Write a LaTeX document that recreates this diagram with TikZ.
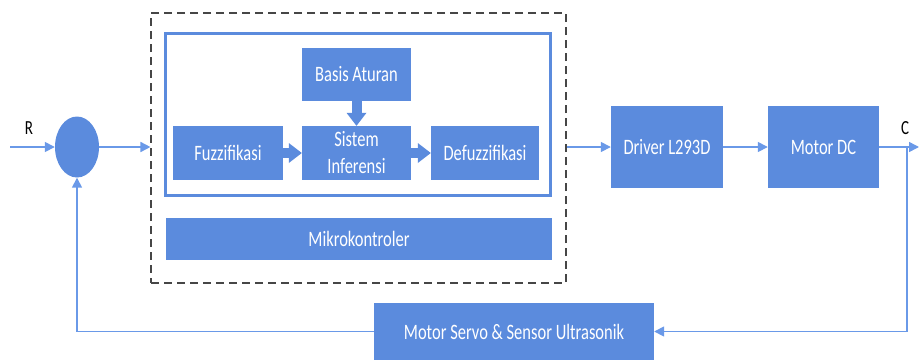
\documentclass[tikz,border=0pt]{standalone}
\usepackage{fontspec}
\setmainfont{Carlito}[FakeStretch=0.75]
\usetikzlibrary{arrows.meta,shapes.geometric}
\definecolor{blockblue}{RGB}{91,139,221}
\definecolor{wireblue}{RGB}{106,153,232}
\definecolor{dashgray}{RGB}{70,70,70}

\begin{document}
\begin{tikzpicture}[x=1pt,y=-1pt,
  block/.style={fill=blockblue, text=white, font=\fontsize{22}{27}\selectfont,
    align=center, inner sep=0pt},
  wire/.style={draw=wireblue, line width=1.6pt, -{Triangle[length=10pt,width=10pt]}},
  fat/.style={draw=blockblue, line width=10pt,
    -{Triangle[length=13pt,width=20pt,line width=0pt]}},
  lbl/.style={text=black, font=\fontsize{20}{22}\selectfont, inner sep=0pt}
]
\useasboundingbox (0,0) rectangle (919,360);

% controller boundary and fuzzy logic frame
\node[draw=dashgray, dash pattern=on 8pt off 5pt, line width=1.1pt,
  minimum width=415pt, minimum height=270pt] (ctrl) at (358.5,148) {};
\node[draw=blockblue, line width=3pt,
  minimum width=385pt, minimum height=162pt] (fuzzy) at (358,114.5) {};

% fuzzy blocks
\node[block, minimum width=109pt, minimum height=53pt] (basis) at (356.5,74.5) {Basis Aturan};
\node[block, minimum width=110pt, minimum height=54pt] (fuzz) at (228,153) {Fuzzifikasi};
\node[block, minimum width=109pt, minimum height=54pt] (sis) at (356.5,153) {Sistem\\Inferensi};
\node[block, minimum width=108pt, minimum height=54pt] (defuzz) at (485,153) {Defuzzifikasi};
\node[block, minimum width=386pt, minimum height=42pt] (mikro) at (359,239) {Mikrokontroler};

% plant blocks
\node[block, minimum width=112pt, minimum height=82pt] (driver) at (667,147) {Driver L293D};
\node[block, minimum width=111pt, minimum height=82pt] (motor) at (823.5,147) {Motor DC};
\node[block, minimum width=280pt, minimum height=57pt] (servo) at (514,331.5) {Motor Servo \& Sensor Ultrasonik};

% summing junction
\node[ellipse, fill=blockblue, minimum width=44pt, minimum height=61pt, inner sep=0pt] (sum) at (77,147) {};

% signal labels and free ends
\node[lbl] (r) at (29,128) {R};
\node[lbl] (c) at (905,128) {C};
\coordinate (in) at (10,147);
\coordinate (out) at (919,147);
\coordinate (br) at (907,147);

% block arrows inside the fuzzy frame
\draw[fat] (fuzz.east) -- (sis.west);
\draw[fat] (sis.east) -- (defuzz.west);
\draw[fat] (basis.south) -- (sis.north);

% signal connectors
\draw[wire] (in) -- (sum.west);
\draw[wire] (sum.east) -- (sum.east -| ctrl.west);
\draw[wire] (ctrl.east |- driver.west) -- (driver.west);
\draw[wire] (driver.east) -- (motor.west);
\draw[wire] (motor.east) -- (out);
\draw[wire] (br) |- (servo.east);
\draw[wire] (servo.west) -| (sum.south);
\end{tikzpicture}
\end{document}
